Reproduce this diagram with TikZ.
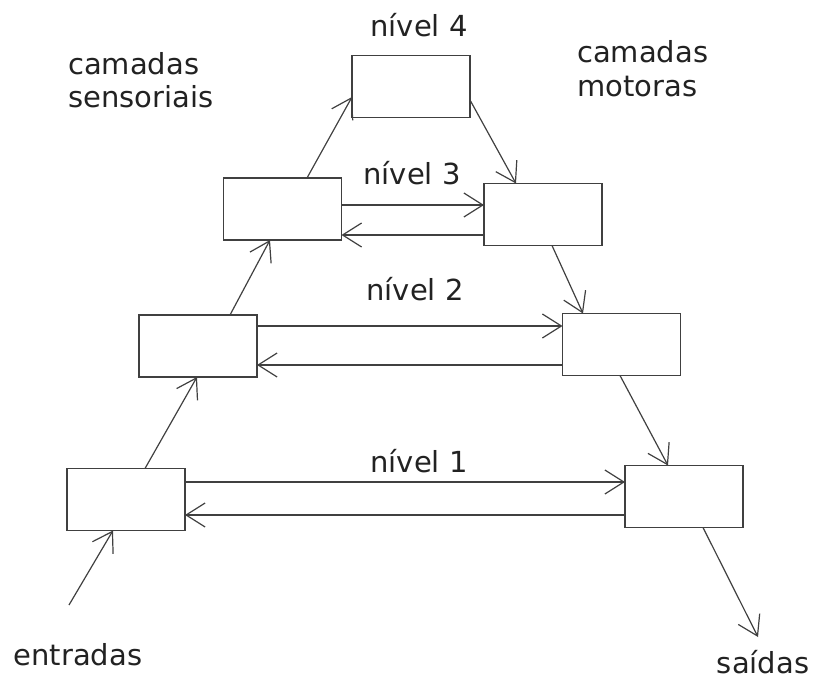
\documentclass[tikz,border=0pt]{standalone}
\usepackage{fontspec}
\setmainfont{DejaVu Sans}
\usetikzlibrary{arrows.meta}
\definecolor{ln}{HTML}{404040}
\definecolor{tx}{HTML}{222222}
\begin{document}
\begin{tikzpicture}[x=1pt,y=-1pt,
  box/.style={draw=ln,line width=1.6pt,minimum width=118pt,minimum height=62pt,inner sep=0pt,outer sep=0pt,fill=white},
  arr/.style={draw=ln,line width=1.2pt,-{Straight Barb[length=19pt,width=24pt,line width=1.2pt]}},
  lbl/.style={text=tx,font=\fontsize{29}{34}\selectfont,inner sep=0pt},
  tag/.style={lbl,anchor=base}]
\useasboundingbox (0,0) rectangle (814,682);
\node[box] (l4) at (411,86.5) {};
\node[box] (l3l) at (282.5,209) {};
\node[box] (l3r) at (543,214.5) {};
\node[box] (l2l) at (198,346) {};
\node[box] (l2r) at (621.5,344.5) {};
\node[box] (l1l) at (126,499.5) {};
\node[box] (l1r) at (684,496.5) {};
\coordinate (in) at (69,605);
\coordinate (out) at (758,637);
% labels
\node[tag] (t4) at (419,37) {nível 4};
\node[tag] (t3) at (412,185) {nível 3};
\node[tag] (t2) at (415,300) {nível 2};
\node[tag] (t1) at (419,472) {nível 1};
\node[lbl,anchor=base west] (cs1) at (68,75) {camadas};
\node[lbl,anchor=base west] (cs2) at (68,108) {sensoriais};
\node[lbl,anchor=base west] (cm1) at (577,63) {camadas};
\node[lbl,anchor=base west] (cm2) at (577,97) {motoras};
\node[tag] (ent) at (78,665) {entradas};
\node[tag] (sai) at (763,673) {saídas};
% sensory side
\draw[arr] (in) -- ([xshift=46pt]l1l.south west);
\draw[arr] ([xshift=78pt]l1l.north west) -- ([xshift=58pt]l2l.south west);
\draw[arr] ([xshift=91pt]l2l.north west) -- ([xshift=46.5pt]l3l.south west);
\draw[arr] ([xshift=83.5pt]l3l.north west) -- ([yshift=-10.5pt]l4.west);
% motor side
\draw[arr] ([yshift=-13.5pt]l4.east) -- ([xshift=32pt]l3r.north west);
\draw[arr] ([xshift=68pt]l3r.south west) -- ([xshift=20.5pt]l2r.north west);
\draw[arr] ([xshift=57.5pt]l2r.south west) -- ([xshift=43pt]l1r.north west);
\draw[arr] ([xshift=78pt]l1r.south west) -- (out);
% horizontal links
\draw[arr] ([yshift=4pt]l3l.east) -- ([yshift=9.5pt]l3r.west);
\draw[arr] ([yshift=-20.5pt]l3r.west) -- ([yshift=-26pt]l3l.east);
\draw[arr] ([yshift=20pt]l2l.east) -- ([yshift=18.5pt]l2r.west);
\draw[arr] ([yshift=-20.5pt]l2r.west) -- ([yshift=-19pt]l2l.east);
\draw[arr] ([yshift=17.5pt]l1l.east) -- ([yshift=14.5pt]l1r.west);
\draw[arr] ([yshift=-18.5pt]l1r.west) -- ([yshift=-15.5pt]l1l.east);
\end{tikzpicture}
\end{document}
